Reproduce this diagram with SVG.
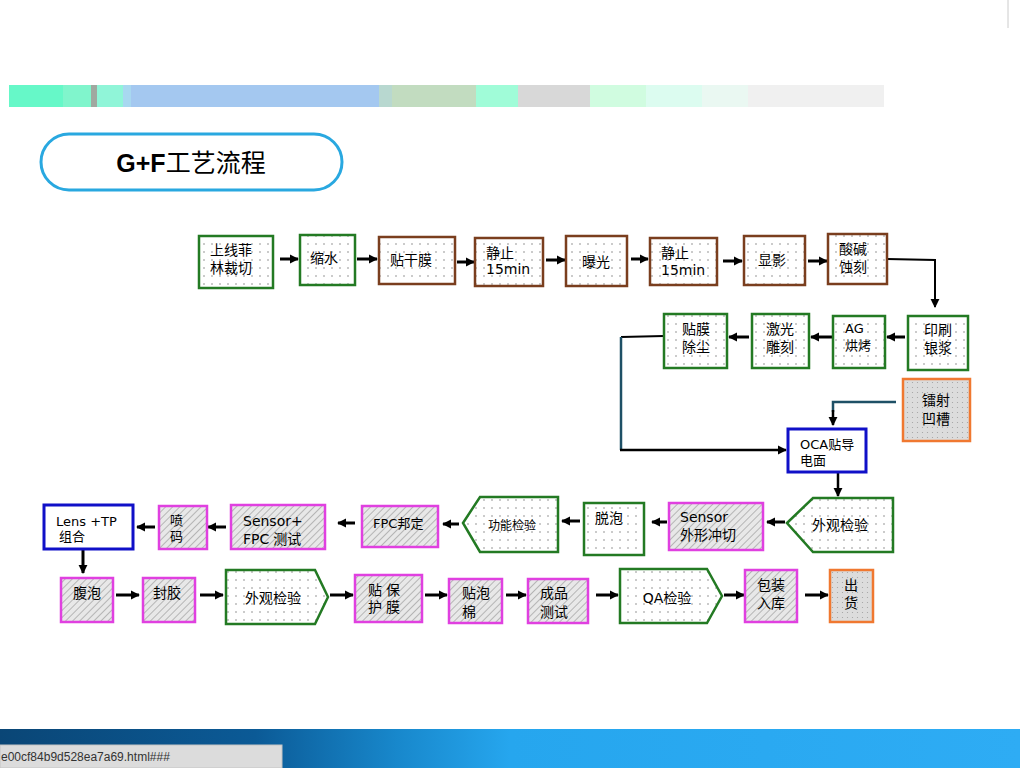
<svg xmlns="http://www.w3.org/2000/svg" width="1024" height="768" viewBox="0 0 1024 768">
<defs>
<pattern id="dots" width="8" height="8" patternUnits="userSpaceOnUse"><rect width="8" height="8" fill="#fff"/><circle cx="4" cy="4" r="0.8" fill="#8a8a8a"/></pattern>
<pattern id="dotsGray" width="5" height="5" patternUnits="userSpaceOnUse"><rect width="5" height="5" fill="#dcdcdc"/><circle cx="2.5" cy="2.5" r="0.6" fill="#a0a0a0"/></pattern>
<pattern id="hatch" width="5" height="5" patternUnits="userSpaceOnUse" patternTransform="rotate(45)"><rect width="5" height="5" fill="#e8e8e8"/><line x1="0" y1="0" x2="0" y2="5" stroke="#9a9a9a" stroke-width="1.3"/></pattern>
<linearGradient id="band" x1="0" y1="0" x2="1" y2="0">
<stop offset="0" stop-color="#0a4676"/><stop offset="0.25" stop-color="#0b5a96"/><stop offset="0.39" stop-color="#1888cc"/><stop offset="0.5" stop-color="#26a6ee"/><stop offset="1" stop-color="#2eacf4"/>
</linearGradient>
<marker id="ah" viewBox="0 0 10 10" refX="9" refY="5" markerUnits="userSpaceOnUse" markerWidth="9" markerHeight="10" orient="auto"><path d="M0,0 L10,5 L0,10 z" fill="#000"/></marker>
</defs>
<style>
text{font-family:"Liberation Sans","Noto Sans CJK SC",sans-serif;font-size:14px;fill:#000}
.lat{font-family:"DejaVu Sans","Noto Sans CJK SC",sans-serif}
.c{text-anchor:middle}
.g{fill:url(#dots);stroke:#237a23;stroke-width:2.5}
.b{fill:url(#dots);stroke:#7a3e1e;stroke-width:2.5}
.m{fill:url(#hatch);stroke:#e040e0;stroke-width:2.5}
.o{fill:url(#dotsGray);stroke:#f07830;stroke-width:2.5}
.bl{fill:#fff;stroke:#1010c8;stroke-width:3}
.ar{stroke:#000;stroke-width:3;fill:none;marker-end:url(#ah)}
.ln{stroke:#000;stroke-width:2;fill:none}
.tl{stroke:#1e5066;stroke-width:2.5;fill:none}
</style>
<rect width="1024" height="768" fill="#fff"/>
<line x1="1008" y1="0" x2="1008" y2="28" stroke="#cccccc" stroke-width="1"/>
<g id="header-bar">
<rect x="9" y="85" width="54" height="22" fill="#66f8c8"/>
<rect x="63" y="85" width="28" height="22" fill="#80f5cc"/>
<rect x="91" y="85" width="6" height="22" fill="#a0a8a0"/>
<rect x="97" y="85" width="26" height="22" fill="#90f5d8"/>
<rect x="123" y="85" width="8" height="22" fill="#a8d8f0"/>
<rect x="131" y="85" width="248" height="22" fill="#a4c8f0"/>
<rect x="379" y="85" width="13" height="22" fill="#b8d8d0"/>
<rect x="392" y="85" width="84" height="22" fill="#c2dcc0"/>
<rect x="476" y="85" width="42" height="22" fill="#a0fcd8"/>
<rect x="518" y="85" width="72" height="22" fill="#d8d8d8"/>
<rect x="590" y="85" width="56" height="22" fill="#d0fce0"/>
<rect x="646" y="85" width="56" height="22" fill="#dcfcf0"/>
<rect x="702" y="85" width="46" height="22" fill="#eaf8f2"/>
<rect x="748" y="85" width="136" height="22" fill="#f0f0f0"/>
</g>
<g id="title">
<rect x="41" y="134" width="301" height="56" rx="28" fill="#fff" stroke="#29a8e0" stroke-width="3"/>
<text x="191" y="172" class="c" style="font-size:25px"><tspan style="font-weight:bold">G+F</tspan>工艺流程</text>
</g>
<g id="connectors">
<line class="ar" x1="280" y1="259" x2="298" y2="259"/>
<line class="ar" x1="357" y1="259" x2="377" y2="259"/>
<line class="ar" x1="457" y1="262" x2="474" y2="262"/>
<line class="ar" x1="546" y1="260" x2="565" y2="260"/>
<line class="ar" x1="631" y1="259" x2="648" y2="259"/>
<line class="ar" x1="723" y1="261" x2="742" y2="261"/>
<line class="ar" x1="808" y1="261" x2="827" y2="261"/>
<path class="ln" d="M887,259 L935,260 L935,300"/>
<path class="ar" d="M935,296 L935,307" style="stroke-width:2"/>
<line class="ar" x1="905" y1="337" x2="887" y2="337"/>
<line class="ar" x1="832" y1="337" x2="811" y2="337"/>
<line class="ar" x1="749" y1="337" x2="729" y2="337"/>
<path class="ln" d="M664,336 L621,337"/>
<path class="tl" d="M621,337 L621,450"/>
<path class="ar" d="M620,450 L786,450" style="stroke-width:2.5"/>
<path class="tl" d="M896,402 L833,402 L833,412"/>
<path class="ar" d="M833,410 L833,425" style="stroke-width:2.5"/>
<path class="ar" d="M838,472 L838,496" style="stroke-width:2.5"/>
<line class="ar" x1="785" y1="522" x2="767" y2="522"/>
<line class="ar" x1="667" y1="522" x2="652" y2="522"/>
<line class="ar" x1="580" y1="521" x2="562" y2="521"/>
<line class="ar" x1="459" y1="524" x2="443" y2="524"/>
<line class="ar" x1="355" y1="523" x2="338" y2="523"/>
<line class="ar" x1="226" y1="527" x2="208" y2="527"/>
<line class="ar" x1="155" y1="527" x2="137" y2="527"/>
<line class="ar" x1="83" y1="550" x2="83" y2="573"/>
<line class="ar" x1="116" y1="595" x2="139" y2="595"/>
<line class="ar" x1="200" y1="595" x2="223" y2="595"/>
<line class="ar" x1="330" y1="595" x2="353" y2="595"/>
<line class="ar" x1="425" y1="595" x2="447" y2="595"/>
<line class="ar" x1="506" y1="595" x2="526" y2="595"/>
<line class="ar" x1="596" y1="595" x2="618" y2="595"/>
<line class="ar" x1="724" y1="595" x2="744" y2="595"/>
<line class="ar" x1="805" y1="595" x2="828" y2="595"/>
</g>
<g id="n1"><rect class="g" x="199" y="236" width="74" height="52"/><text x="210" y="255">上线菲</text><text x="210" y="273">林裁切</text></g>
<g id="n2"><rect class="g" x="300" y="235" width="55" height="50"/><text x="310" y="263">缩水</text></g>
<g id="n3"><rect class="b" x="379" y="237" width="76" height="47"/><text x="390" y="265">贴干膜</text></g>
<g id="n4"><rect class="b" x="475" y="238" width="68" height="48"/><text x="486" y="258">静止</text><text x="486" y="274" class="lat">15min</text></g>
<g id="n5"><rect class="b" x="566" y="236" width="61" height="50"/><text x="582" y="267">曝光</text></g>
<g id="n6"><rect class="b" x="650" y="238" width="67" height="47"/><text x="661" y="258">静止</text><text x="661" y="275" class="lat">15min</text></g>
<g id="n7"><rect class="b" x="744" y="236" width="61" height="49"/><text x="758" y="265">显影</text></g>
<g id="n8"><rect class="b" x="828" y="234" width="59" height="50"/><text x="839" y="254">酸碱</text><text x="839" y="272">蚀刻</text></g>
<g id="n9"><rect class="g" x="908" y="316" width="60" height="54"/><text x="938" y="335" class="c">印刷</text><text x="938" y="353" class="c">银浆</text></g>
<g id="n10"><rect class="g" x="833" y="316" width="52" height="52"/><text x="845" y="333" class="lat" style="font-size:13px">AG</text><text x="845" y="350" style="font-size:13px">烘烤</text></g>
<g id="n11"><rect class="g" x="752" y="314" width="57" height="54"/><text x="780" y="334" class="c">激光</text><text x="780" y="352" class="c">雕刻</text></g>
<g id="n12"><rect class="g" x="664" y="314" width="63" height="54"/><text x="696" y="334" class="c">贴膜</text><text x="696" y="352" class="c">除尘</text></g>
<g id="n13"><rect class="o" x="903" y="379" width="67" height="62"/><text x="936" y="405" class="c">镭射</text><text x="936" y="424" class="c">凹槽</text></g>
<g id="n14"><rect class="bl" x="788" y="429" width="78" height="43"/><text x="800" y="449" style="font-size:13px"><tspan class="lat">OCA</tspan>贴导</text><text x="800" y="465" style="font-size:13px">电面</text></g>
<g id="n15"><path class="g" d="M787,523 L813,498 L893,498 L893,552 L813,552 Z"/><text x="840" y="530" class="c">外观检验</text></g>
<g id="n16"><rect class="m" x="669" y="503" width="94" height="47"/><text x="680" y="522" class="lat">Sensor</text><text x="680" y="540">外形冲切</text></g>
<g id="n17"><rect class="g" x="584" y="503" width="60" height="52"/><text x="595" y="523">脱泡</text></g>
<g id="n18"><path class="g" d="M463,523 L480,497 L558,497 L558,552 L480,552 Z"/><text x="512" y="530" class="c" style="font-size:12px">功能检验</text></g>
<g id="n19"><rect class="m" x="362" y="506" width="76" height="41"/><text x="373" y="528" style="font-size:13px"><tspan class="lat">FPC</tspan>邦定</text></g>
<g id="n20"><rect class="m" x="231" y="505" width="94" height="44"/><text x="243" y="526" class="lat">Sensor+</text><text x="243" y="544"><tspan class="lat">FPC</tspan> 测试</text></g>
<g id="n21"><rect class="m" x="159" y="506" width="48" height="43"/><text x="170" y="525" style="font-size:13px">喷</text><text x="170" y="541" style="font-size:13px">码</text></g>
<g id="n22"><rect class="bl" x="44" y="505" width="89" height="44"/><text x="56" y="526" class="lat" style="font-size:13px">Lens +TP</text><text x="59" y="541" style="font-size:13px">组合</text></g>
<g id="n23"><rect class="m" x="61" y="578" width="52" height="44"/><text x="87" y="598" class="c">腹泡</text></g>
<g id="n24"><rect class="m" x="143" y="578" width="52" height="44"/><text x="153" y="598">封胶</text></g>
<g id="n25"><path class="g" d="M226,570 L315,570 L328,597 L315,624 L226,624 Z"/><text x="273" y="603" class="c">外观检验</text></g>
<g id="n26"><rect class="m" x="355" y="575" width="67" height="47"/><text x="368" y="595">贴 保</text><text x="368" y="612">护 膜</text></g>
<g id="n27"><rect class="m" x="449" y="579" width="53" height="44"/><text x="462" y="598">贴泡</text><text x="462" y="617">棉</text></g>
<g id="n28"><rect class="m" x="528" y="579" width="60" height="44"/><text x="540" y="598">成品</text><text x="540" y="617">测试</text></g>
<g id="n29"><path class="g" d="M620,569 L707,569 L722,596 L707,623 L620,623 Z"/><text x="667" y="603" class="c"><tspan class="lat">QA</tspan>检验</text></g>
<g id="n30"><rect class="m" x="745" y="570" width="52" height="52"/><text x="771" y="590" class="c">包装</text><text x="771" y="608" class="c">入库</text></g>
<g id="n31"><rect class="o" x="830" y="570" width="43" height="52"/><text x="851" y="590" class="c">出</text><text x="851" y="608" class="c">货</text></g>
<g id="footer">
<rect x="0" y="729" width="1020" height="39" fill="url(#band)"/>
<rect x="0" y="745" width="282" height="23" fill="#dcdcdc" stroke="#c4c4c4" stroke-width="1"/>
<text x="1" y="761" style="font-size:12px;fill:#333">e00cf84b9d528ea7a69.html###</text>
</g>
</svg>
